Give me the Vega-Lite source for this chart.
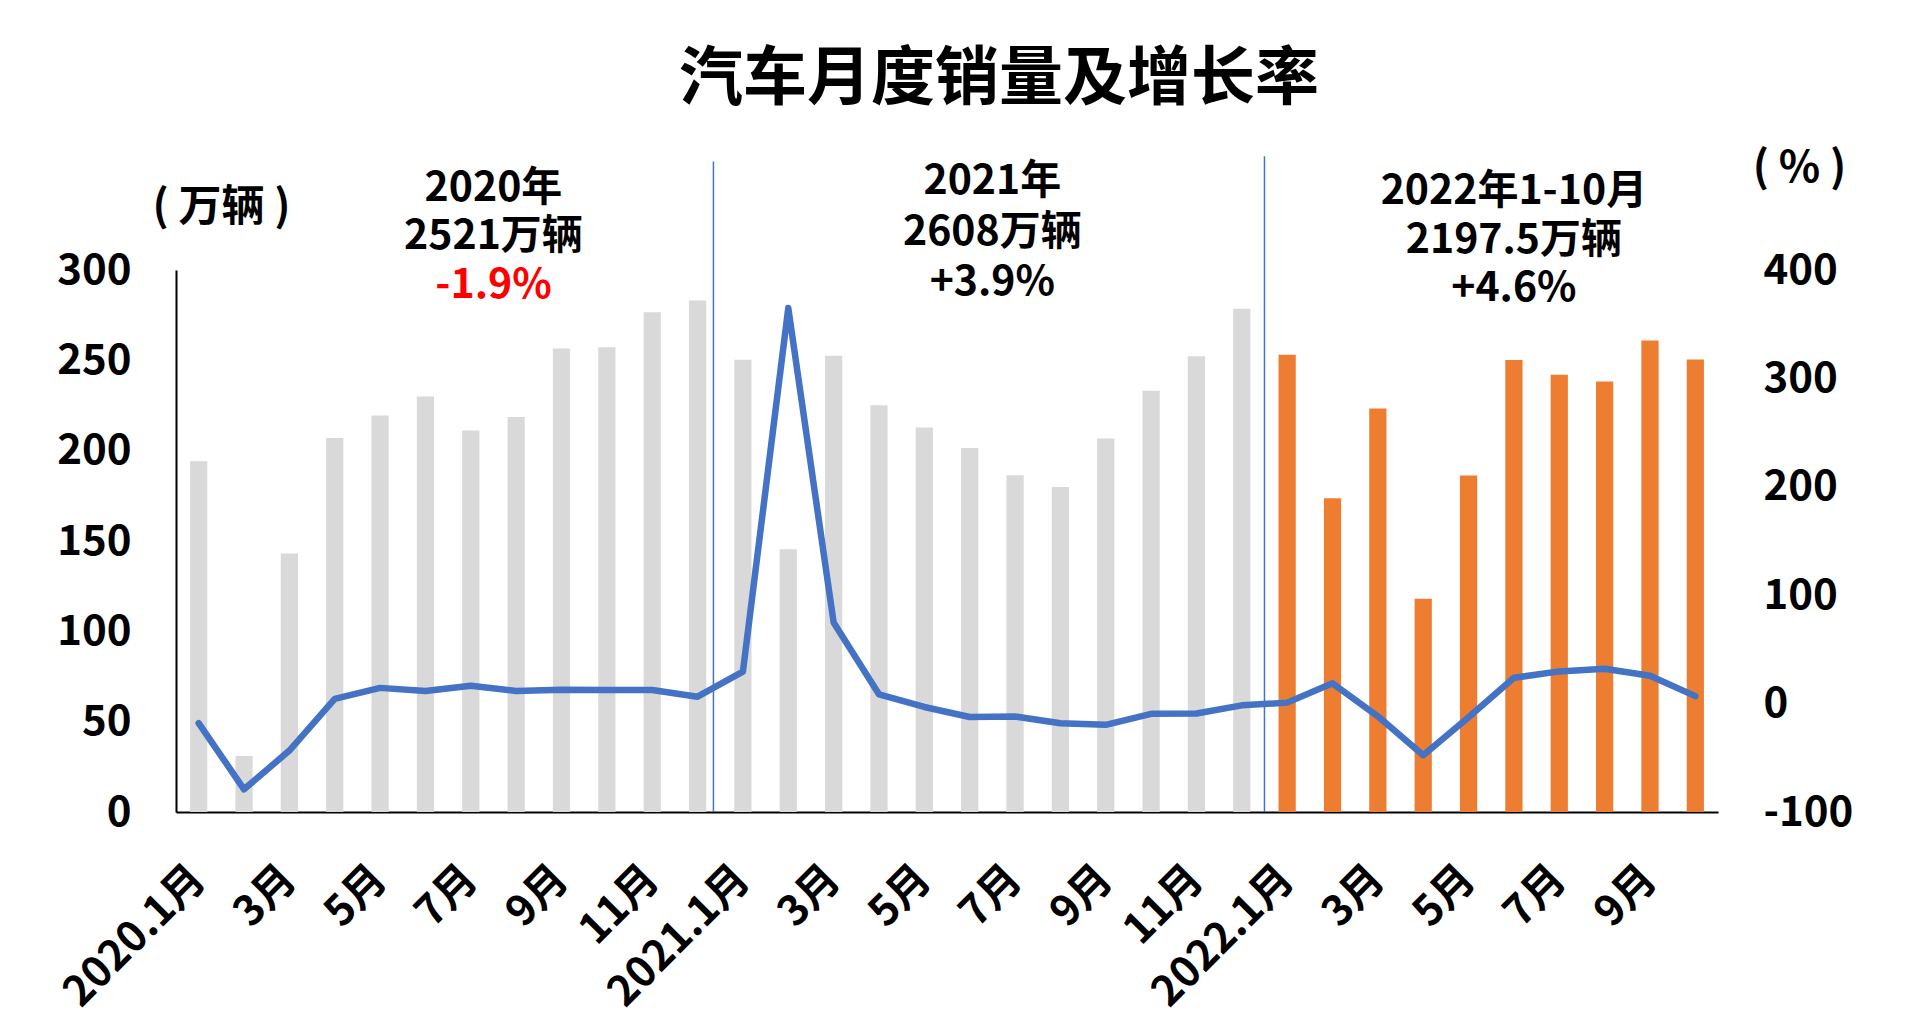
{
  "$schema": "https://vega.github.io/schema/vega-lite/v6.json",
  "autosize": "none",
  "width": 1542,
  "height": 542,
  "padding": {"left": 176, "top": 270, "right": 188, "bottom": 216},
  "background": "white",
  "config": {"font": "Noto Sans CJK SC", "view": {"stroke": null}},
  "title": {"text": "汽车月度销量及增长率", "fontSize": 64, "fontWeight": "bold", "font": "Noto Sans CJK SC", "anchor": "middle", "frame": "group", "dx": 52, "offset": 35, "color": "black"},
  "datasets": {
    "monthly": [
      {"m": "2020-01", "year": "2020", "sales": 194.1, "growth": -18.0},
      {"m": "2020-02", "year": "2020", "sales": 31.0, "growth": -79.1},
      {"m": "2020-03", "year": "2020", "sales": 143.1, "growth": -43.3},
      {"m": "2020-04", "year": "2020", "sales": 207.0, "growth": 4.4},
      {"m": "2020-05", "year": "2020", "sales": 219.4, "growth": 14.5},
      {"m": "2020-06", "year": "2020", "sales": 230.0, "growth": 11.6},
      {"m": "2020-07", "year": "2020", "sales": 211.2, "growth": 16.4},
      {"m": "2020-08", "year": "2020", "sales": 218.6, "growth": 11.6},
      {"m": "2020-09", "year": "2020", "sales": 256.5, "growth": 12.8},
      {"m": "2020-10", "year": "2020", "sales": 257.3, "growth": 12.5},
      {"m": "2020-11", "year": "2020", "sales": 276.6, "growth": 12.6},
      {"m": "2020-12", "year": "2020", "sales": 283.1, "growth": 6.4},
      {"m": "2021-01", "year": "2021", "sales": 250.3, "growth": 29.5},
      {"m": "2021-02", "year": "2021", "sales": 145.5, "growth": 364.9},
      {"m": "2021-03", "year": "2021", "sales": 252.6, "growth": 74.9},
      {"m": "2021-04", "year": "2021", "sales": 225.2, "growth": 8.6},
      {"m": "2021-05", "year": "2021", "sales": 212.8, "growth": -3.1},
      {"m": "2021-06", "year": "2021", "sales": 201.5, "growth": -12.4},
      {"m": "2021-07", "year": "2021", "sales": 186.4, "growth": -11.9},
      {"m": "2021-08", "year": "2021", "sales": 179.9, "growth": -18.1},
      {"m": "2021-09", "year": "2021", "sales": 206.7, "growth": -19.6},
      {"m": "2021-10", "year": "2021", "sales": 233.2, "growth": -9.4},
      {"m": "2021-11", "year": "2021", "sales": 252.2, "growth": -9.1},
      {"m": "2021-12", "year": "2021", "sales": 278.6, "growth": -1.6},
      {"m": "2022-01", "year": "2022", "sales": 253.1, "growth": 0.9},
      {"m": "2022-02", "year": "2022", "sales": 173.7, "growth": 18.7},
      {"m": "2022-03", "year": "2022", "sales": 223.4, "growth": -11.7},
      {"m": "2022-04", "year": "2022", "sales": 118.1, "growth": -47.6},
      {"m": "2022-05", "year": "2022", "sales": 186.2, "growth": -12.6},
      {"m": "2022-06", "year": "2022", "sales": 250.2, "growth": 23.8},
      {"m": "2022-07", "year": "2022", "sales": 242.0, "growth": 29.7},
      {"m": "2022-08", "year": "2022", "sales": 238.3, "growth": 32.1},
      {"m": "2022-09", "year": "2022", "sales": 261.0, "growth": 25.7},
      {"m": "2022-10", "year": "2022", "sales": 250.5, "growth": 6.9}
    ],
    "sep": [
      {"which": "first", "m": "2020-12", "top": 360, "bottom": 0},
      {"which": "second", "m": "2022-01", "top": 363, "bottom": 0}
    ],
    "notes": [
      {"blk": "a", "m": "2020-07", "v": 345, "t": "2020年"},
      {"blk": "a", "m": "2020-07", "v": 318, "t": "2521万辆"},
      {"blk": "a", "m": "2020-07", "v": 291, "t": "-1.9%"},
      {"blk": "a", "m": "2021-06", "v": 348.5, "t": "2021年"},
      {"blk": "a", "m": "2021-06", "v": 320.5, "t": "2608万辆"},
      {"blk": "a", "m": "2021-06", "v": 293, "t": "+3.9%"},
      {"blk": "b", "m": "2022-06", "v": 343, "t": "2022年1-10月"},
      {"blk": "b", "m": "2022-06", "v": 316, "t": "2197.5万辆"},
      {"blk": "b", "m": "2022-06", "v": 289.5, "t": "+4.6%"}
    ]
  },
  "resolve": {"scale": {"y": "independent"}},
  "layer": [
    {
      "layer": [
        {
          "data": {"name": "monthly"},
          "mark": {"type": "bar", "width": {"band": 0.38}},
          "encoding": {
            "x": {
              "field": "m", "type": "ordinal", "title": null,
              "scale": {"paddingInner": 0, "paddingOuter": 0},
              "axis": {
                "labelExpr": "slice(datum.value,5)=='01' ? slice(datum.value,0,4)+'.1月' : (toNumber(slice(datum.value,5)) % 2 == 1 ? toNumber(slice(datum.value,5))+'月' : '')",
                "labelAngle": -45, "labelAlign": "right", "labelBaseline": "middle",
                "labelFontSize": 42, "labelFontWeight": "bold", "labelColor": "black",
                "labelPadding": 60, "ticks": false, "tickSize": 0,
                "labelOverlap": false, "labelBound": false,
                "domainColor": "black", "domainWidth": 2, "grid": false
              }
            },
            "y": {
              "field": "sales", "type": "quantitative", "title": "( 万辆 )",
              "scale": {"domain": [0, 300], "nice": false},
              "axis": {
                "values": [0, 50, 100, 150, 200, 250, 300],
                "title": "( 万辆 )", "titleAngle": 0, "titleX": 45, "titleY": -63,
                "titleAlign": "center", "titleBaseline": "middle",
                "titleFontSize": 43, "titleFontWeight": "bold", "titleColor": "black",
                "labelFontSize": 42, "labelFontWeight": "bold", "labelColor": "black",
                "labelPadding": 45, "ticks": false, "tickSize": 0, "grid": false,
                "domainColor": "black", "domainWidth": 2
              }
            },
            "color": {
              "field": "year", "type": "nominal", "legend": null,
              "scale": {"domain": ["2020", "2021", "2022"], "range": ["#D9D9D9", "#D9D9D9", "#ED7D31"]}
            }
          }
        },
        {
          "data": {"name": "sep"},
          "transform": [{"filter": "datum.which == 'first'"}],
          "mark": {"type": "rule", "color": "#4472C4", "strokeWidth": 1.5},
          "encoding": {
            "x": {"field": "m", "type": "ordinal", "bandPosition": 0.85, "title": null},
            "y": {"field": "top", "type": "quantitative", "title": "( 万辆 )"},
            "y2": {"field": "bottom"}
          }
        },
        {
          "data": {"name": "sep"},
          "transform": [{"filter": "datum.which == 'second'"}],
          "mark": {"type": "rule", "color": "#4472C4", "strokeWidth": 1.5},
          "encoding": {
            "x": {"field": "m", "type": "ordinal", "bandPosition": 0, "title": null},
            "y": {"field": "top", "type": "quantitative", "title": "( 万辆 )"},
            "y2": {"field": "bottom"}
          }
        },
        {
          "data": {"name": "notes"},
          "transform": [{"filter": "datum.blk == 'a'"}],
          "mark": {"type": "text", "fontSize": 41, "fontWeight": "bold", "align": "center", "baseline": "middle"},
          "encoding": {
            "x": {"field": "m", "type": "ordinal", "bandPosition": 1, "title": null},
            "y": {"field": "v", "type": "quantitative", "title": "( 万辆 )"},
            "text": {"field": "t", "type": "nominal"},
            "color": {"condition": {"test": "indexof(datum.t,'-')==0", "value": "#FF0000"}, "value": "black"}
          }
        },
        {
          "data": {"name": "notes"},
          "transform": [{"filter": "datum.blk == 'b'"}],
          "mark": {"type": "text", "fontSize": 41, "fontWeight": "bold", "align": "center", "baseline": "middle", "color": "black"},
          "encoding": {
            "x": {"field": "m", "type": "ordinal", "bandPosition": 0.5, "title": null},
            "y": {"field": "v", "type": "quantitative", "title": "( 万辆 )"},
            "text": {"field": "t", "type": "nominal"}
          }
        }
      ]
    },
    {
      "data": {"name": "monthly"},
      "mark": {"type": "line", "color": "#4472C4", "strokeWidth": 6.5, "strokeJoin": "round", "strokeCap": "round"},
      "encoding": {
        "x": {"field": "m", "type": "ordinal", "title": null},
        "y": {
          "field": "growth", "type": "quantitative",
          "scale": {"domain": [-100, 400], "nice": false},
          "axis": {
            "orient": "right", "values": [-100, 0, 100, 200, 300, 400],
            "labelExpr": "datum.value < 0 ? '-' + abs(datum.value) : '' + datum.value",
            "title": "( % )", "titleAngle": 0, "titleX": 81, "titleY": -102,
            "titleAlign": "center", "titleBaseline": "middle",
            "titleFontSize": 43, "titleFontWeight": "bold", "titleColor": "black",
            "labelFontSize": 42, "labelFontWeight": "bold", "labelColor": "black",
            "labelPadding": 45, "ticks": false, "tickSize": 0, "grid": false, "domain": false
          }
        }
      }
    }
  ]
}
